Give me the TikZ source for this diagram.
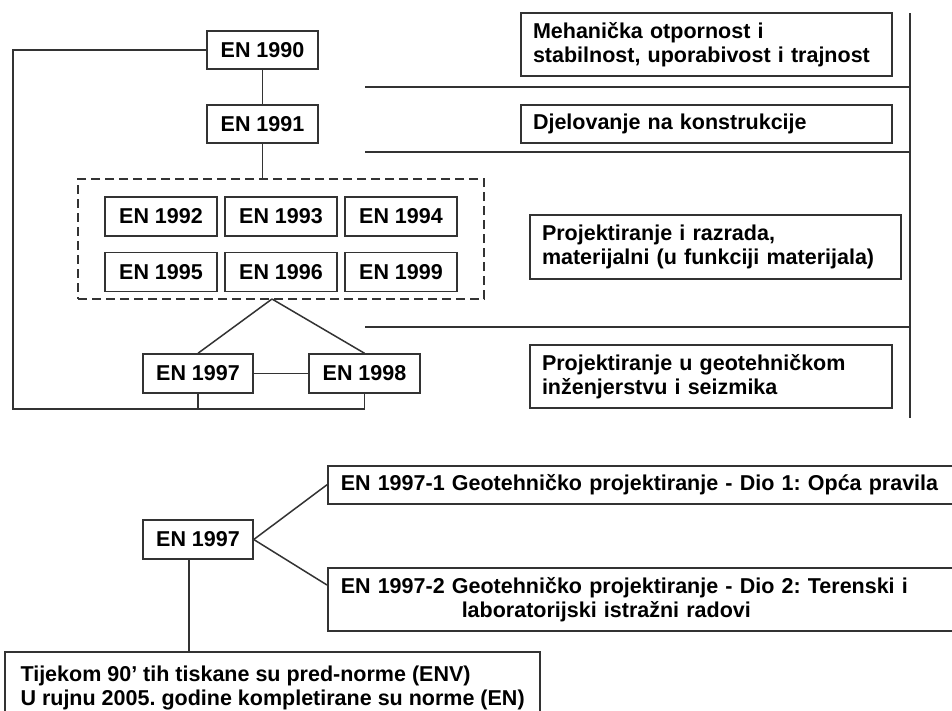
\documentclass[tikz,border=0pt]{standalone}
\usepackage{fontspec}
\setmainfont{Liberation Sans}
\usetikzlibrary{calc}
\definecolor{ln}{HTML}{333333}
\tikzset{
  txt/.style={font=\frenchspacing\bfseries\fontsize{21.5}{24}\selectfont, text=black},
  box/.style={txt, draw=ln, line width=1.5pt, inner sep=0pt, fill=white},
  enbox/.style={box, minimum width=111pt, minimum height=38pt, align=center},
  wide/.style={box, align=left, inner xsep=12pt},
  conn/.style={draw=ln, line width=1.5pt},
  grpbox/.style={draw=ln, line width=1.5pt, dash pattern=on 9pt off 5pt, minimum width=406pt, minimum height=120pt, inner sep=0pt}
}
\begin{document}
\frenchspacing
\begin{tikzpicture}[x=1pt,y=-1pt]
\useasboundingbox (0,0) rectangle (952,710);
\clip (0,0) rectangle (952,710);
\fill[white] (0,0) rectangle (952,710);

% upper tree
\node[grpbox] (grp) at (281,239) {};
\node[enbox] (e90) at (262.5,50) {EN 1990};
\node[enbox] (e91) at (262.5,124) {EN 1991};
\node[enbox, minimum width=112pt, minimum height=39pt] (e92) at (161,216.5) {EN 1992};
\node[enbox, minimum width=112pt, minimum height=39pt] (e93) at (281,216.5) {EN 1993};
\node[enbox, minimum width=112pt, minimum height=39pt] (e94) at (401,216.5) {EN 1994};
\node[enbox, minimum width=112pt, minimum height=39pt] (e95) at (161,272) {EN 1995};
\node[enbox, minimum width=112pt, minimum height=39pt] (e96) at (281,272) {EN 1996};
\node[enbox, minimum width=112pt, minimum height=39pt] (e99) at (401,272) {EN 1999};
\node[enbox, minimum width=110pt, minimum height=39pt] (e97) at (198,373.5) {EN 1997};
\node[enbox, minimum width=111pt, minimum height=39pt] (e98) at (364.5,373.5) {EN 1998};

\coordinate (apex) at (272,299);
\coordinate (corner) at (13,409);

\draw[conn] (e90) -- (e91);
\draw[conn] (e91.south) -- (e91.south |- grp.north);
\draw[conn] (apex) -- (e97.north);
\draw[conn] (apex) -- (e98.north);
\draw[conn] (e97) -- (e98);
\draw[conn] (e90.west) -| (corner) -- (corner -| e98.south) -- (e98.south);
\draw[conn] (e97.south) -- (e97.south |- corner);

% right column
\node[wide, text width=347pt, minimum height=63pt] (mech) at (706.5,44.5) {Mehanička otpornost i\\stabilnost, uporabivost i trajnost};
\node[wide, text width=347pt, minimum height=38pt] (djel) at (706.5,124) {Djelovanje na konstrukcije};
\node[wide, text width=347pt, minimum height=64pt] (proj) at (715.5,247) {Projektiranje i razrada,\\materijalni (u funkciji materijala)};
\node[wide, text width=338pt, minimum height=63pt] (geo) at (711,376.5) {Projektiranje u geotehničkom\\inženjerstvu i seizmika};

\coordinate (vtop) at (910,13);
\coordinate (vbot) at (910,418);
\coordinate (h1) at (365,87);
\coordinate (h2) at (365,152);
\coordinate (h3) at (365,327);
\draw[conn] (vtop) -- (vbot);
\draw[conn] (h1) -- (h1 -| vtop);
\draw[conn] (h2) -- (h2 -| vtop);
\draw[conn] (h3) -- (h3 -| vtop);

% lower tree
\node[enbox, minimum width=110pt, minimum height=39pt] (b97) at (198,539.5) {EN 1997};
\node[wide, anchor=north west, inner xsep=13pt, text width=680pt, minimum height=38pt] (b1) at (327,465) {EN 1997-1 Geotehničko projektiranje - Dio 1: Opća pravila};
\node[wide, anchor=north west, inner xsep=13pt, text width=680pt, minimum height=63pt] (b2) at (327,567) {EN 1997-2 Geotehničko projektiranje - Dio 2: Terenski i\\\hspace*{121pt}laboratorijski istražni radovi};
\node[wide, anchor=north west, inner xsep=13pt, text width=509pt, minimum height=90pt, align=left] (note) at (4,651) {};
\node[txt, anchor=west, align=left] (notetxt) at (17,688) {Tijekom 90’ tih tiskane su pred-norme (ENV)\\U rujnu 2005. godine kompletirane su norme (EN)};

\draw[conn] (b97.east) -- (b1.west);
\draw[conn] (b97.east) -- ($(b2.north west)+(0,18)$);
\coordinate (bdrop) at ($(b97.south)+(-9,0)$);
\draw[conn] (bdrop) -- (bdrop |- note.north);
\end{tikzpicture}
\end{document}
